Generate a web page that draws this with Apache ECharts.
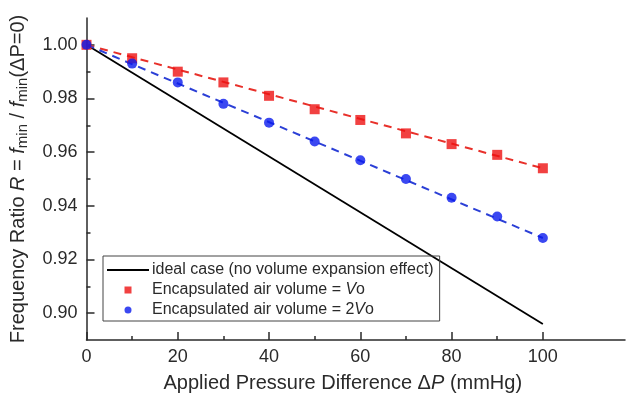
<!DOCTYPE html>
<html>
<head>
<meta charset="utf-8">
<script src="https://cdn.jsdelivr.net/npm/echarts@6/dist/echarts.min.js"></script>
<style>
  html, body { margin: 0; padding: 0; background: #fff; }
  #chart { width: 630px; height: 402px; }
</style>
</head>
<body>
<div id="chart"></div>
<script>
// pressure points (mmHg)
var pressure = [0, 10, 20, 30, 40, 50, 60, 70, 80, 90, 100];
// measured frequency ratios
var ratioVo = [1.000, 0.995, 0.990, 0.986, 0.981, 0.976, 0.972, 0.967, 0.963, 0.959, 0.954];
var ratio2Vo = [1.000, 0.993, 0.986, 0.978, 0.971, 0.964, 0.957, 0.950, 0.943, 0.936, 0.928];
// fitted dashed lines (end points)
var fitX = [0, 100];
var fitVo = [1.000, 0.954];
var fit2Vo = [1.000, 0.928];
// ideal case line
var idealX = [0, 100];
var idealY = [1.000, 0.896];
// ticks
var xMajor = [0, 20, 40, 60, 80, 100];
var xMinor = [10, 30, 50, 70, 90];
var yMajor = [0.90, 0.92, 0.94, 0.96, 0.98, 1.00];
var yMinor = [0.91, 0.93, 0.95, 0.97, 0.99];

function pairs(xs, ys) {
    return xs.map(function (x, i) { return [x, ys[i]]; });
}

var myChart = echarts.init(document.getElementById('chart'));
var font = 'Liberation Sans, Arial, sans-serif';
var ink = '#2a2a2a';
var axisCommon = {
    type: 'value',
    splitLine: { show: false }
};

var option = {
    animation: false,
    backgroundColor: '#fff',
    textStyle: { fontFamily: font },
    grid: { left: 84, right: 5, top: 18, bottom: 62 },
    legend: {
        orient: 'vertical',
        left: 103,
        top: 256,
        width: 334,
        padding: [6, 6, 3, 4],
        itemGap: 4,
        itemWidth: 42,
        itemHeight: 7,
        borderColor: '#444',
        borderWidth: 1,
        textStyle: {
            fontSize: 16, color: ink, fontFamily: font, padding: [0, 0, 0, -2],
            rich: { i: { fontStyle: 'italic', fontSize: 16, color: ink } }
        },
        data: [
            { name: 'ideal', icon: 'path://M0,0 L42,0 L42,1.8 L0,1.8 Z' },
            { name: 'Vo', icon: 'path://M0,0 L1,0 L1,1 L0,1 Z' },
            { name: '2Vo', icon: 'circle' }
        ],
        formatter: function (name) {
            if (name === 'ideal') return 'ideal case (no volume expansion effect)';
            if (name === 'Vo') return 'Encapsulated air volume = {i|V}o';
            return 'Encapsulated air volume = 2{i|V}o';
        }
    },
    xAxis: [
        Object.assign({}, axisCommon, {
            min: 0, max: 118,
            name: 'Applied Pressure Difference \u0394{i|P} (mmHg)',
            nameLocation: 'middle',
            nameGap: 33,
            nameTextStyle: {
                fontSize: 20, color: ink, fontFamily: font, padding: [0, 26, 0, 0],
                rich: { i: { fontStyle: 'italic', fontSize: 20, color: ink } }
            },
            axisLine: { lineStyle: { color: ink, width: 1.5 } },
            axisTick: { inside: true, length: 8, customValues: xMajor, lineStyle: { color: ink, width: 1.5 } },
            axisLabel: { customValues: xMajor, fontSize: 18, color: ink, margin: 8 }
        }),
        Object.assign({}, axisCommon, {
            min: 0, max: 118,
            position: 'bottom',
            axisLine: { show: false },
            axisTick: { inside: true, length: 4, customValues: xMinor, lineStyle: { color: ink, width: 1.5 } },
            axisLabel: { show: false }
        })
    ],
    yAxis: [
        Object.assign({}, axisCommon, {
            min: 0.89, max: 1.01,
            name: 'Frequency Ratio {i|R} = {i|f}{sub|min} / {i|f}{sub|min}(\u0394P=0)',
            nameLocation: 'middle',
            nameGap: 56,
            nameTextStyle: {
                fontSize: 20, color: ink, fontFamily: font,
                rich: {
                    i: { fontStyle: 'italic', fontSize: 20, color: ink },
                    sub: { fontSize: 15, color: ink, padding: [10, 0, 0, 0] }
                }
            },
            axisLine: { lineStyle: { color: ink, width: 1.5 } },
            axisTick: { inside: true, length: 8, customValues: yMajor, lineStyle: { color: ink, width: 1.5 } },
            axisLabel: {
                customValues: yMajor, fontSize: 18, color: ink, margin: 9,
                formatter: function (v) { return v.toFixed(2); }
            }
        }),
        Object.assign({}, axisCommon, {
            min: 0.89, max: 1.01,
            position: 'left',
            axisLine: { show: false },
            axisTick: { inside: true, length: 4, customValues: yMinor, lineStyle: { color: ink, width: 1.5 } },
            axisLabel: { show: false }
        })
    ],
    series: [
        {
            name: 'ideal', type: 'line', data: pairs(idealX, idealY),
            symbol: 'none', itemStyle: { color: '#000' }, lineStyle: { color: '#000', width: 1.8 }, z: 2
        },
        {
            name: 'Vo fit', type: 'line', data: pairs(fitX, fitVo),
            symbol: 'none', lineStyle: { color: '#e8302a', width: 2, type: [8, 6] }, z: 3
        },
        {
            name: '2Vo fit', type: 'line', data: pairs(fitX, fit2Vo),
            symbol: 'none', lineStyle: { color: '#2b3fd6', width: 2, type: [8, 6] }, z: 3
        },
        {
            name: 'Vo', type: 'scatter', data: pairs(pressure, ratioVo),
            symbol: 'rect', symbolSize: 10, itemStyle: { color: '#ee1111' }, z: 4
        },
        {
            name: '2Vo', type: 'scatter', data: pairs(pressure, ratio2Vo),
            symbol: 'circle', symbolSize: 10, itemStyle: { color: '#0a1aee' }, z: 5
        }
    ]
};
myChart.setOption(option);
</script>
</body>
</html>
